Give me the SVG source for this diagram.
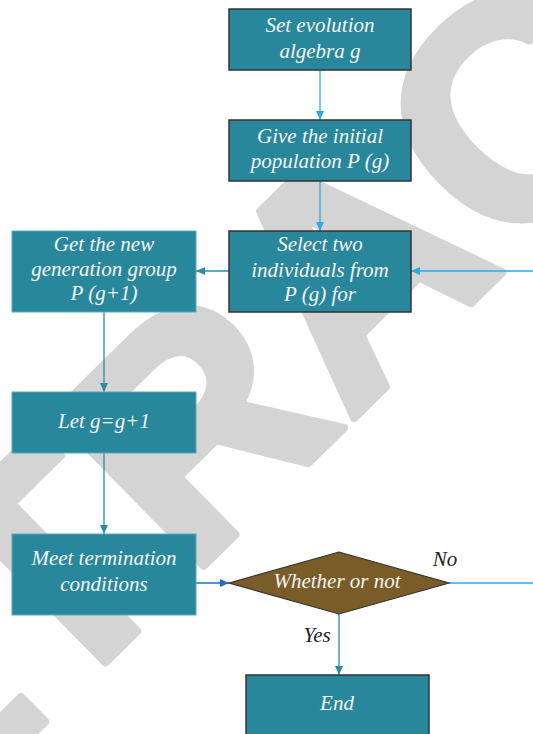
<svg xmlns="http://www.w3.org/2000/svg" width="533" height="734" viewBox="0 0 533 734">
<defs>
<style>
.wm{fill:#d4d4d4;stroke:#d4d4d4;stroke-width:8;stroke-linejoin:round;font-family:"Liberation Sans",Arial,sans-serif;font-weight:bold;font-size:310px}
.box{fill:#28879b;stroke:#333;stroke-width:1.5}
.box2{fill:#28879b;stroke:#5aaabb;stroke-width:1}
.dia{fill:#7a5c28;stroke:#333;stroke-width:1.2}
.t{fill:#f4f4f4;font-family:"Liberation Serif","Times New Roman",serif;font-style:italic;font-size:21px;text-anchor:middle}
.lbl{fill:#222;font-family:"Liberation Serif","Times New Roman",serif;font-style:italic;font-size:21px;text-anchor:middle}
.lb{stroke:#29abe2;stroke-width:1.3;fill:none}
.tl{stroke:#2a8da3;stroke-width:1.3;fill:none}
.db{stroke:#1f6fc0;stroke-width:1.3;fill:none}
</style>
<marker id="aLb" markerWidth="10" markerHeight="10" refX="9" refY="4" orient="auto" markerUnits="userSpaceOnUse"><path d="M0,0 L9,4 L0,8 Z" fill="#29abe2"/></marker>
<marker id="aTl" markerWidth="10" markerHeight="10" refX="9" refY="4" orient="auto" markerUnits="userSpaceOnUse"><path d="M0,0 L9,4 L0,8 Z" fill="#2a8da3"/></marker>
<marker id="aDb" markerWidth="10" markerHeight="10" refX="9" refY="4" orient="auto" markerUnits="userSpaceOnUse"><path d="M0,0 L9,4 L0,8 Z" fill="#1f6fc0"/></marker>
</defs>
<rect width="533" height="734" fill="#fff"/>
<g id="watermark">
<text class="wm" transform="translate(114,654) rotate(-44.5)" x="-515" y="0">RETRACTED</text>
</g>
<g id="connectors">
<line class="lb" x1="320" y1="70" x2="320" y2="120" marker-end="url(#aLb)"/>
<line class="lb" x1="320" y1="181" x2="320" y2="231" marker-end="url(#aLb)"/>
<line class="lb" x1="533" y1="271" x2="411" y2="271" marker-end="url(#aLb)"/>
<line class="tl" x1="229" y1="271" x2="196" y2="271" marker-end="url(#aTl)"/>
<line class="tl" x1="104" y1="312" x2="104" y2="392" marker-end="url(#aTl)"/>
<line class="tl" x1="104" y1="453" x2="104" y2="534" marker-end="url(#aTl)"/>
<line class="db" x1="196" y1="583" x2="229" y2="583" marker-end="url(#aDb)"/>
<line class="lb" x1="449" y1="583" x2="533" y2="583"/>
<line class="tl" x1="339" y1="614" x2="339" y2="675" marker-end="url(#aTl)"/>
<text class="lbl" x="445" y="566">No</text>
<text class="lbl" x="317" y="642">Yes</text>
</g>
<g id="n1">
<rect class="box" x="229" y="9" width="182" height="61"/>
<text class="t" x="320" y="32">Set evolution</text>
<text class="t" x="320" y="58">algebra g</text>
</g>
<g id="n2">
<rect class="box" x="229" y="120" width="182" height="61"/>
<text class="t" x="320" y="143">Give the initial</text>
<text class="t" x="320" y="168">population P (g)</text>
</g>
<g id="n3">
<rect class="box" x="229" y="231" width="182" height="81"/>
<text class="t" x="320" y="251">Select two</text>
<text class="t" x="320" y="277">individuals from</text>
<text class="t" x="320" y="301">P (g) for</text>
</g>
<g id="n4">
<rect class="box2" x="12" y="231" width="184" height="81"/>
<text class="t" x="104" y="251">Get the new</text>
<text class="t" x="104" y="276">generation group</text>
<text class="t" x="104" y="300">P (g+1)</text>
</g>
<g id="n5">
<rect class="box2" x="12" y="392" width="184" height="61"/>
<text class="t" x="104" y="428">Let g=g+1</text>
</g>
<g id="n6">
<rect class="box2" x="12" y="534" width="184" height="81"/>
<text class="t" x="104" y="565">Meet termination</text>
<text class="t" x="104" y="591">conditions</text>
</g>
<g id="n7">
<polygon class="dia" points="229,583 339,552 449,583 339,614"/>
<text class="t" x="337" y="588">Whether or not</text>
</g>
<g id="n8">
<rect class="box" x="246" y="675" width="183" height="70"/>
<text class="t" x="337" y="710">End</text>
</g>
</svg>
